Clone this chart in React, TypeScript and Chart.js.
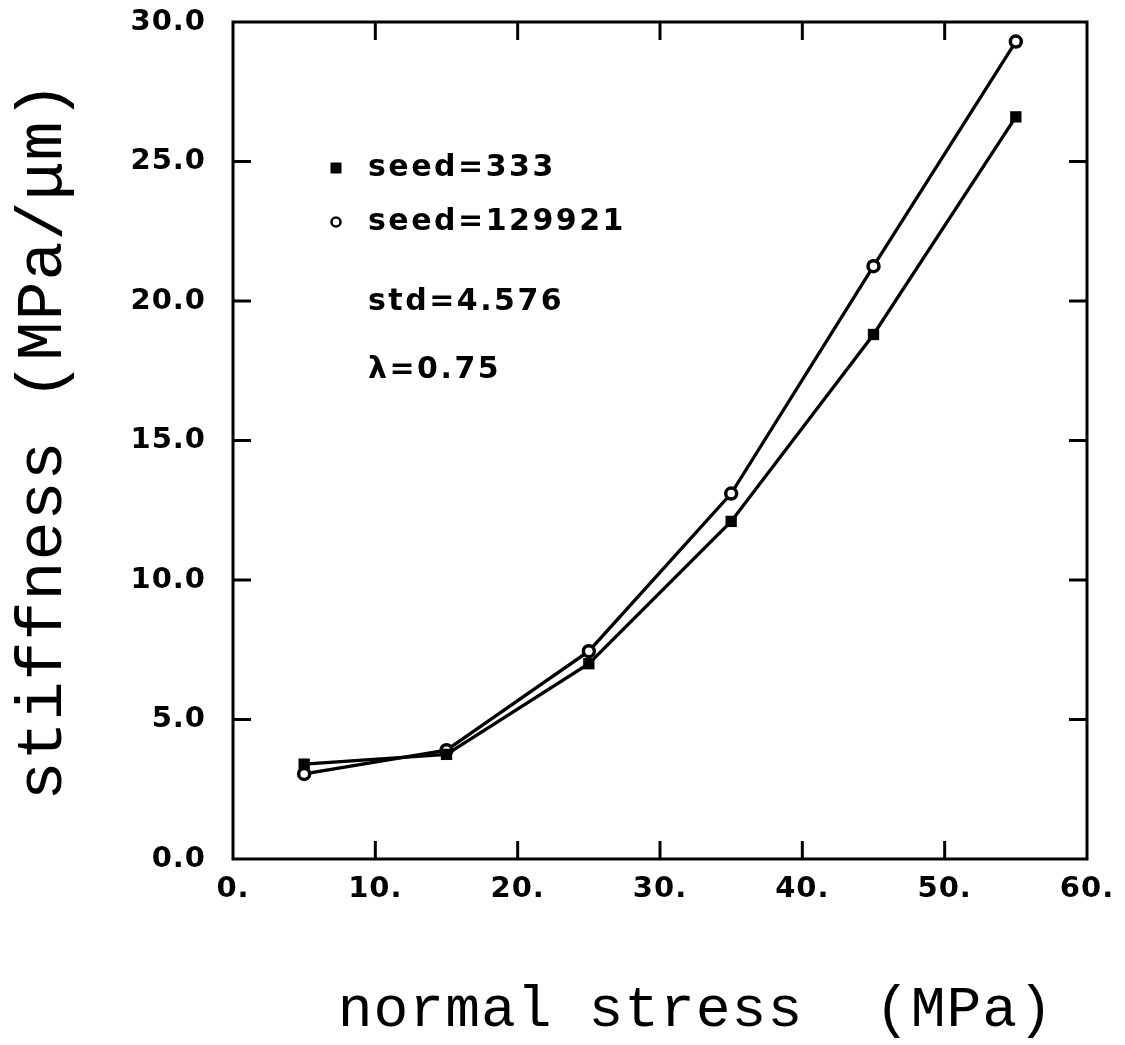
import React, { useEffect, useRef } from 'react';
import { Chart, registerables } from 'chart.js';

Chart.register(...registerables);

const stressX = [5, 15, 25, 35, 45, 55];
const seed333 = [3.4, 3.75, 7.0, 12.1, 18.8, 26.6];
const seed129921 = [3.05, 3.9, 7.45, 13.1, 21.25, 29.3];
const legendSeries = ['seed=333', 'seed=129921'];
const noteLines = ['std=4.576', 'λ=0.75'];
const xTitle = '  normal stress  (MPa)';
const yTitle = 'stiffness (MPa/μm)';

const W = 1125;
const H = 1045;

export default function App() {
  const ref = useRef<HTMLCanvasElement | null>(null);

  useEffect(() => {
    const canvas = ref.current;
    if (!canvas) return;

    const framePlugin = {
      id: 'framePlugin',
      beforeUpdate(chart: any) {
        chart.ctx.letterSpacing = '1px';
      },
      beforeDraw(chart: any) {
        const ctx = chart.ctx;
        ctx.letterSpacing = '1px';
        ctx.save();
        ctx.fillStyle = '#ffffff';
        ctx.fillRect(0, 0, chart.width, chart.height);
        ctx.restore();
      },
      beforeDatasetsDraw(chart: any) {
        const ctx = chart.ctx;
        const { left, right, top, bottom } = chart.chartArea;
        const xs = chart.scales.x;
        const ys = chart.scales.y;
        const tl = 18;
        ctx.save();
        ctx.strokeStyle = '#000';
        ctx.lineWidth = 3;
        ctx.lineCap = 'square';
        ctx.strokeRect(left, top, right - left, bottom - top);
        ctx.lineCap = 'butt';
        ctx.beginPath();
        xs.ticks.forEach((t: any) => {
          const px = xs.getPixelForValue(t.value);
          if (px <= left + 1 || px >= right - 1) return;
          ctx.moveTo(px, bottom);
          ctx.lineTo(px, bottom - tl);
          ctx.moveTo(px, top);
          ctx.lineTo(px, top + tl);
        });
        ys.ticks.forEach((t: any) => {
          const py = ys.getPixelForValue(t.value);
          if (py <= top + 1 || py >= bottom - 1) return;
          ctx.moveTo(left, py);
          ctx.lineTo(left + tl, py);
          ctx.moveTo(right, py);
          ctx.lineTo(right - tl, py);
        });
        ctx.stroke();
        ctx.restore();
      },
      afterDraw(chart: any) {
        const ctx = chart.ctx;
        ctx.save();
        ctx.fillStyle = '#000';
        ctx.strokeStyle = '#000';
        ctx.font = 'bold 30px "DejaVu Sans"';
        ctx.letterSpacing = '2.5px';
        ctx.textBaseline = 'middle';
        ctx.textAlign = 'left';
        const mx = 336;
        const tx = 368;
        const rows = [168, 222, 302, 370];
        // square marker
        ctx.fillRect(mx - 5.5, rows[0] - 5.5, 11, 11);
        // circle marker
        ctx.lineWidth = 2.5;
        ctx.beginPath();
        ctx.arc(mx, rows[1], 4.5, 0, Math.PI * 2);
        ctx.stroke();
        ctx.fillText(legendSeries[0], tx, rows[0]);
        ctx.fillText(legendSeries[1], tx, rows[1]);
        ctx.fillText(noteLines[0], tx, rows[2]);
        ctx.fillText(noteLines[1], tx, rows[3]);
        ctx.restore();
      },
    };

    const chart = new Chart(canvas, {
      type: 'line',
      data: {
        datasets: [
          {
            label: legendSeries[0],
            data: stressX.map((x, i) => ({ x, y: seed333[i] })),
            borderColor: '#000',
            backgroundColor: '#000',
            borderWidth: 3.3,
            pointStyle: 'rect',
            pointRadius: 8,
            pointBorderWidth: 0,
            pointBackgroundColor: '#000',
            tension: 0,
          },
          {
            label: legendSeries[1],
            data: stressX.map((x, i) => ({ x, y: seed129921[i] })),
            borderColor: '#000',
            backgroundColor: '#fff',
            borderWidth: 3.3,
            pointStyle: 'circle',
            pointRadius: 5.5,
            pointBorderWidth: 3.5,
            pointBorderColor: '#000',
            pointBackgroundColor: '#fff',
            tension: 0,
          },
        ],
      },
      options: {
        animation: false,
        responsive: false,
        maintainAspectRatio: false,
        devicePixelRatio: 1,
        layout: { padding: { left: 0, top: 22, right: 38, bottom: 0 } },
        plugins: {
          legend: { display: false },
          tooltip: { enabled: false },
        },
        scales: {
          x: {
            type: 'linear',
            min: 0,
            max: 60,
            afterFit: (s: any) => {
              s.height = H - 859;
              s.paddingLeft = 0;
              s.paddingRight = 0;
            },
            grid: { display: false, drawTicks: false },
            border: { display: false },
            ticks: {
              stepSize: 10,
              padding: 13,
              color: '#000',
              font: { family: '"DejaVu Sans"', size: 29, weight: 'bold' },
              callback: (v: any) => `${v}.`,
              maxRotation: 0,
              autoSkip: false,
            },
            title: {
              display: true,
              text: xTitle,
              color: '#000',
              font: { family: '"Liberation Mono"', size: 58, lineHeight: 1.2 },
              padding: { top: 0, bottom: 0 },
            },
          },
          y: {
            type: 'linear',
            min: 0,
            max: 30,
            afterFit: (s: any) => {
              s.width = 233;
              s.paddingTop = 0;
              s.paddingBottom = 0;
            },
            grid: { display: false, drawTicks: false },
            border: { display: false },
            ticks: {
              stepSize: 5,
              padding: 27,
              color: '#000',
              font: { family: '"DejaVu Sans"', size: 29, weight: 'bold' },
              callback: (v: any) => Number(v).toFixed(1),
              autoSkip: false,
            },
            title: {
              display: true,
              text: yTitle,
              color: '#000',
              font: { family: '"Liberation Mono"', size: 65, lineHeight: 1.2 },
              padding: { top: 5, bottom: 0 },
            },
          },
        },
      },
      plugins: [framePlugin],
    });

    return () => {
      chart.destroy();
    };
  }, []);

  return (
    <div style={{ position: 'fixed', left: 0, top: 0, width: W, height: H, background: '#fff' }}>
      <canvas ref={ref} width={W} height={H} style={{ width: W, height: H, display: 'block' }} />
    </div>
  );
}
